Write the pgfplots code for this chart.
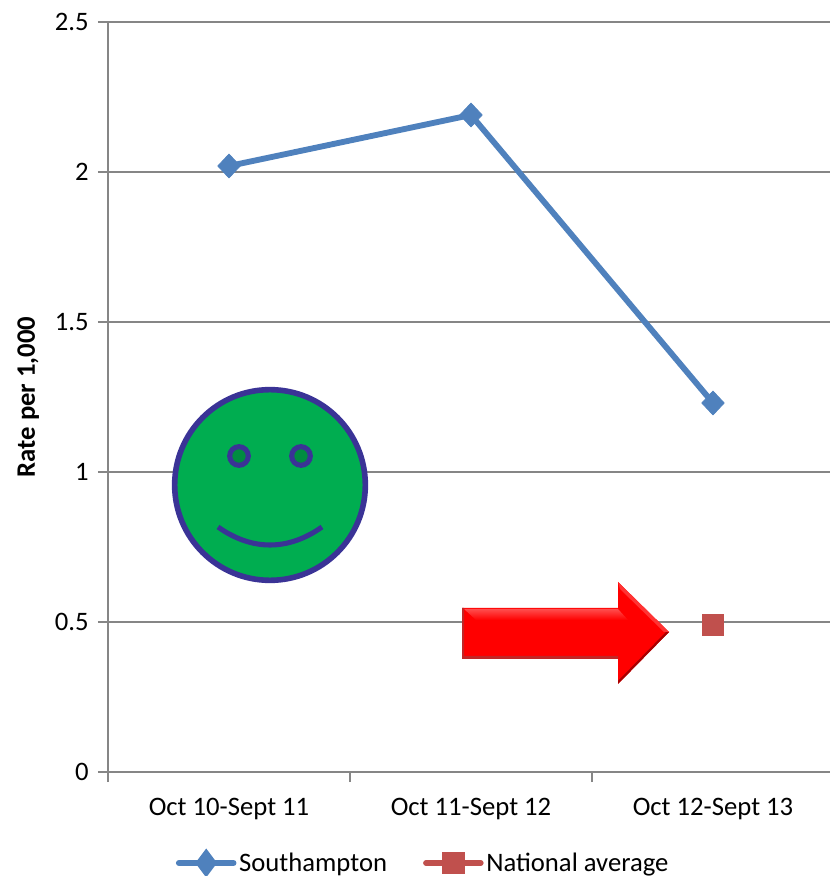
\documentclass[border=0pt]{standalone}
\usepackage{fontspec}
\setmainfont{Carlito}
\usepackage{pgfplots}
\pgfplotsset{compat=1.18}
\definecolor{sblue}{HTML}{4F81BD}
\definecolor{nred}{HTML}{C0504D}
\definecolor{gridc}{HTML}{868686}
\definecolor{sgreen}{HTML}{00AD50}
\definecolor{sdark}{HTML}{008C40}
\definecolor{sline}{HTML}{3A3396}
\begin{document}
\begin{tikzpicture}
\path[use as bounding box] (0pt,0pt) rectangle (622.5pt,657pt);
\begin{axis}[
  at={(81pt,78pt)}, anchor=south west,
  scale only axis, width=541.5pt, height=562.5pt,
  xmin=-0.5, xmax=2.4835, ymin=0, ymax=2.5,
  axis x line*=bottom, axis y line*=left,
  axis line style={gridc, line width=1.6pt, -},
  xtick={-0.5,0.5,1.5},
  xticklabels={},
  extra x ticks={0,1,2},
  extra x tick labels={Oct 10-Sept 11,Oct 11-Sept 12,Oct 12-Sept 13},
  extra x tick style={major tick length=0pt, tick style={draw=none},
     tick label style={yshift=-16pt}},
  ytick={0,0.5,1,1.5,2,2.5},
  yticklabels={0,0.5,1,1.5,2,2.5},
  ymajorgrids, grid style={gridc, line width=1.2pt},
  tick style={draw=gridc, line width=1.2pt},
  tick align=outside, major tick length=7.5pt,
  tick label style={font=\fontsize{20}{22}\selectfont, text=black},
  yticklabel style={xshift=-3.5pt},
  ylabel={\bfseries Rate per 1,000},
  ylabel style={font=\fontsize{20}{22}\selectfont, at={(axis description cs:-0.1105,0.5)}, anchor=center},
  clip=false,
  legend columns=2,
  legend style={draw=none, fill=none, at={(axis description cs:0.437,-0.1213)}, anchor=center,
    font=\fontsize{20}{22}\selectfont, column sep=0pt,
    /tikz/every even column/.append style={column sep=25pt},
    inner sep=0pt, outer sep=0pt},
  legend cell align=left,
  legend image code/.code={
    \draw[#1, mark repeat=2, mark phase=2, mark options={scale=0.8}] plot coordinates {(0pt,0pt) (20.5pt,0pt) (41pt,0pt)};
  },
]
\addplot[sblue, line width=4.4pt, line cap=round, mark=diamond*, mark size=9pt,
  mark options={fill=sblue, draw=sblue, line width=0.5pt, xscale=1.25}]
  coordinates {(0,2.02) (1,2.19) (2,1.23)};
\addlegendentry{Southampton}
\addplot[nred, line width=4.4pt, line cap=round, mark=square*, mark size=8pt,
  mark options={fill=nred, draw=nred, line width=0.5pt}]
  coordinates {(2,0.49)};
\addlegendentry{National average}
\end{axis}
\begin{scope}[yshift=657pt, x=0.75pt, y=-0.75pt]
% smiley
\draw[sline, line width=4.2pt, fill=sgreen] (270,485) circle [radius=71.5pt];
\draw[sline, line width=3.8pt, fill=sdark] (239,456) circle [radius=7pt];
\draw[sline, line width=3.8pt, fill=sdark] (301,456) circle [radius=7pt];
\draw[sline, line width=3.8pt] (218,527) .. controls (252,551) and (288,551) .. (322,527);
% arrow
\fill[red] (462,608) -- (618,608) -- (618,582) -- (669,632) -- (618,684) -- (618,659) -- (462,659) -- cycle;
\shade[top color=red!70!white, bottom color=red] (464,609) -- (618,609) -- (628,620) -- (476,620) -- cycle;
\fill[red!72!black!85!white] (462,659) -- (618,659) -- (618,656) -- (464,656) -- (464,608) -- (462,608) -- cycle;
\fill[red!65!black] (669,632) -- (618,684) -- (618,681) -- (666,632) -- cycle;
\fill[red!80!white] (618,582) -- (669,632) -- (664,632) -- (620,589) -- cycle;
\end{scope}
\end{tikzpicture}
\end{document}
